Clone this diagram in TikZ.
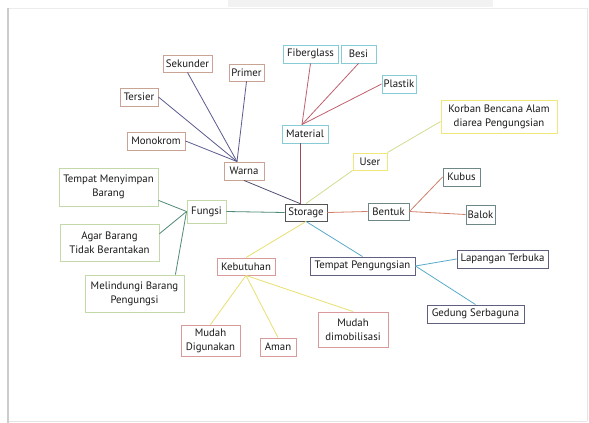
\documentclass[tikz,border=0pt]{standalone}
\usepackage{fontspec}
\setmainfont{PT Sans}
\usetikzlibrary{calc}
\definecolor{cwar}{HTML}{C9A393}
\definecolor{cmat}{HTML}{86CCD6}
\definecolor{cuse}{HTML}{EEE77A}
\definecolor{cben}{HTML}{6F8786}
\definecolor{csto}{HTML}{555555}
\definecolor{cfun}{HTML}{C4D9A9}
\definecolor{ckeb}{HTML}{D89A9A}
\definecolor{ctp}{HTML}{5F5F7F}
\definecolor{lwar}{HTML}{5B5B8F}
\definecolor{lmat}{HTML}{C0606E}
\definecolor{luse}{HTML}{D4DC90}
\definecolor{lben}{HTML}{D0806A}
\definecolor{lfun}{HTML}{4F8A7A}
\definecolor{lkeb}{HTML}{E8E070}
\definecolor{ltp}{HTML}{5AABC8}
\definecolor{lws}{HTML}{505070}
\tikzset{
  bx/.style={draw, line width=0.9pt, inner sep=0.5pt, align=center, font=\fontsize{10.8}{14}\selectfont, text=black!90},
  cn/.style={line width=0.8pt},
}
\begin{document}
\begin{tikzpicture}[x=1pt,y=-1pt]
\useasboundingbox (0,0) rectangle (589,423);
\fill[white] (0,0) rectangle (589,423);
\fill[gray!10] (228,0) rectangle (493,7);
\draw[gray!15, line width=1pt] (9,8) -- (588,8);
\draw[gray!40, line width=2pt] (8,8) -- (8,423);
\draw[gray!20, line width=1pt] (587,8) -- (587,421);
\draw[gray!20, line width=1pt] (9,421) -- (587,421);

% nodes
\node[bx, draw=cwar, minimum width=49, minimum height=17] (sek) at (187.5,63.5) {Sekunder};
\node[bx, draw=cwar, minimum width=35, minimum height=17] (prim) at (246.5,72.5) {Primer};
\node[bx, draw=cwar, minimum width=38, minimum height=18] (ters) at (139,97) {Tersier};
\node[bx, draw=cwar, minimum width=58, minimum height=18] (mono) at (156,141) {Monokrom};
\node[bx, draw=cwar, minimum width=40, minimum height=18] (warna) at (244,171) {Warna};
\node[bx, draw=cmat, minimum width=55, minimum height=18] (fib) at (310.5,54) {Fiberglass};
\node[bx, draw=cmat, minimum width=35, minimum height=18] (besi) at (358.5,54) {Besi};
\node[bx, draw=cmat, minimum width=34, minimum height=18] (plas) at (399,84) {Plastik};
\node[bx, draw=cmat, minimum width=46, minimum height=18] (mat) at (305,134) {Material};
\node[bx, draw=cuse, minimum width=116, minimum height=33] (korban) at (499,116.5) {Korban Bencana Alam\\diarea Pengungsian};
\node[bx, draw=cuse, minimum width=34, minimum height=17] (user) at (370,161.5) {User};
\node[bx, draw=cben, minimum width=37, minimum height=18] (kubus) at (461.5,177) {Kubus};
\node[bx, draw=cben, minimum width=41, minimum height=17] (bentuk) at (388.5,211.5) {Bentuk};
\node[bx, draw=cben, minimum width=29, minimum height=19] (balok) at (480.5,214.5) {Balok};
\node[bx, draw=csto, minimum width=42, minimum height=17] (storage) at (306,212.5) {Storage};
\node[bx, draw=cfun, minimum width=39, minimum height=23] (fungsi) at (206.5,211.5) {Fungsi};
\node[bx, draw=cfun, minimum width=99, minimum height=38] (tm) at (108.5,187) {Tempat Menyimpan\\Barang};
\node[bx, draw=cfun, minimum width=99, minimum height=37] (agar) at (109.5,242.5) {Agar Barang\\Tidak Berantakan};
\node[bx, draw=cfun, minimum width=99, minimum height=37] (mel) at (134.5,293.5) {Melindungi Barang\\Pengungsi};
\node[bx, draw=ckeb, minimum width=58, minimum height=17] (keb) at (246,266.5) {Kebutuhan};
\node[bx, draw=ctp, minimum width=105, minimum height=18] (tp) at (362.5,266) {Tempat Pengungsian};
\node[bx, draw=ctp, minimum width=91, minimum height=18] (lap) at (502.5,259) {Lapangan Terbuka};
\node[bx, draw=ctp, minimum width=97, minimum height=18] (ged) at (475.5,314) {Gedung Serbaguna};
\node[bx, draw=ckeb, minimum width=59, minimum height=31] (md) at (210.5,340.5) {Mudah\\Digunakan};
\node[bx, draw=ckeb, minimum width=36, minimum height=18] (aman) at (278,347) {Aman};
\node[bx, draw=ckeb, minimum width=70, minimum height=35] (mdm) at (353,329.5) {Mudah\\dimobilisasi};

% connectors
\coordinate (wtop) at ($(warna.north)+(-7,0)$);
\coordinate (mtop) at ($(mat.north)+(-3,0)$);
\coordinate (stl) at ($(storage.north)+(-6,0)$);
\draw[cn, lwar] (sek.south) -- (wtop);
\draw[cn, lwar] (prim.south) -- (wtop);
\draw[cn, lwar] (ters.east) -- (wtop);
\draw[cn, lwar] (mono.east) -- (wtop);
\draw[cn, lws] (warna.south) -- (stl);

\draw[cn, lmat] (fib.south) -- (mtop);
\draw[cn, lmat] (besi.south) -- (mtop);
\draw[cn, lmat] (plas.west) -- (mtop);
\draw[cn, lmat!80!black] ($(mat.south)+(-5,0)$) -- (stl);

\draw[cn, luse] (storage.north) -- (user.south west);
\draw[cn, luse] (user.north east) -- ($(korban.west)+(0,5)$);

\draw[cn, lben] (storage.east) -- (bentuk.west);
\draw[cn, lben] (bentuk.east) -- (kubus.west);
\draw[cn, lben] (bentuk.east) -- (balok.west);

\draw[cn, lfun] (storage.west) -- (fungsi.east);
\draw[cn, lfun] (fungsi.west) -- (tm.-15);
\draw[cn, lfun] (fungsi.west) -- (agar.10);
\draw[cn, lfun] (fungsi.west) -- ($(mel.north east)+(-9,0)$);

\draw[cn, lkeb] (storage.south) -- (keb.north);
\draw[cn, lkeb] (keb.south) -- (md.north);
\draw[cn, lkeb] (keb.south) -- (aman.north);
\draw[cn, lkeb] (keb.south) -- (mdm.north);

\draw[cn, ltp] (storage.south) -- (tp.north);
\draw[cn, ltp] (tp.east) -- (lap.west);
\draw[cn, ltp] (tp.east) -- (ged.north);
\end{tikzpicture}
\end{document}
